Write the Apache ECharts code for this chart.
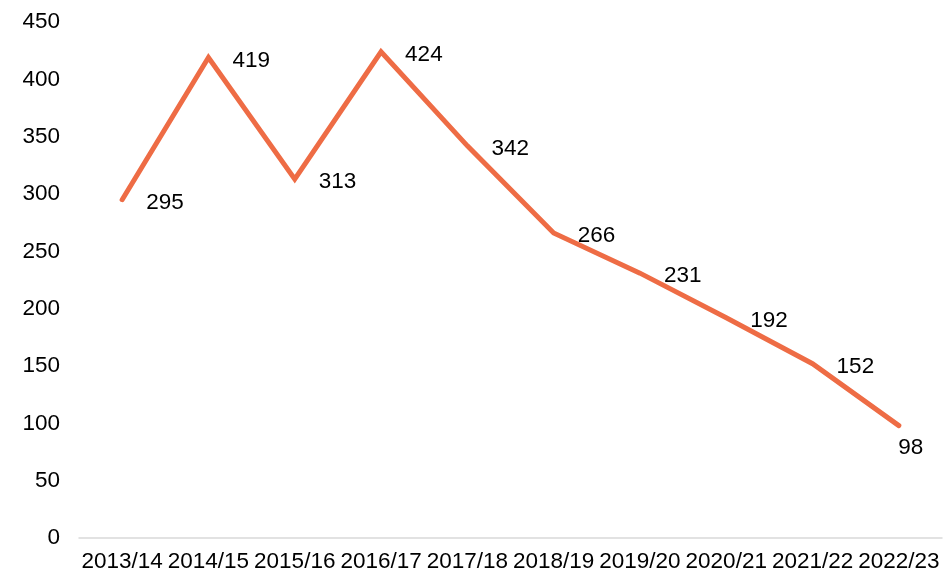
<!DOCTYPE html>
<html>
<head>
<meta charset="utf-8">
<script src="https://cdn.jsdelivr.net/npm/echarts@6/dist/echarts.min.js"></script>
<style>
  html, body { margin: 0; padding: 0; background: #fff; }
  #chart { width: 943px; height: 574px; }
</style>
</head>
<body>
<div id="chart"></div>
<script>
// 数据
var years = ['2013/14', '2014/15', '2015/16', '2016/17', '2017/18', '2018/19', '2019/20', '2020/21', '2021/22', '2022/23'];
var values = [295, 419, 313, 424, 342, 266, 231, 192, 152, 98];
var labelPos = ['right', 'right', 'right', 'right', 'right', 'right', 'right', 'right', 'right', 'bottom'];

var font = 'Liberation Sans, Arial, sans-serif';
var fs = 22.5;

var chart = echarts.init(document.getElementById('chart'));
chart.setOption({
  animation: false,
  grid: { left: 79, right: 1, top: 22, bottom: 36 },
  xAxis: {
    type: 'category',
    data: years,
    boundaryGap: true,
    axisLine: { lineStyle: { color: '#d9d9d9', width: 1.5 } },
    axisTick: { show: false },
    axisLabel: { color: '#000', fontSize: fs, fontFamily: font, margin: 12, interval: 0 }
  },
  yAxis: {
    type: 'value',
    min: 0, max: 450, interval: 50,
    axisLine: { show: false },
    axisTick: { show: false },
    splitLine: { show: false },
    axisLabel: { color: '#000', fontSize: fs, fontFamily: font, margin: 19 }
  },
  series: [{
    type: 'line',
    data: values.map(function (v, i) {
      var bottom = labelPos[i] == 'bottom';
      return { value: v, label: {
        position: labelPos[i],
        distance: bottom ? 11 : 24,
        offset: bottom ? [12, 0] : [0, 3]
      } };
    }),
    symbol: 'circle',
    symbolSize: 0.1,
    showSymbol: true,
    lineStyle: { color: '#ee6c45', width: 5, cap: 'round', join: 'miter' },
    itemStyle: { color: '#ee6c45' },
    label: { show: true, color: '#000', fontSize: fs, fontFamily: font }
  }]
});
</script>
</body>
</html>
